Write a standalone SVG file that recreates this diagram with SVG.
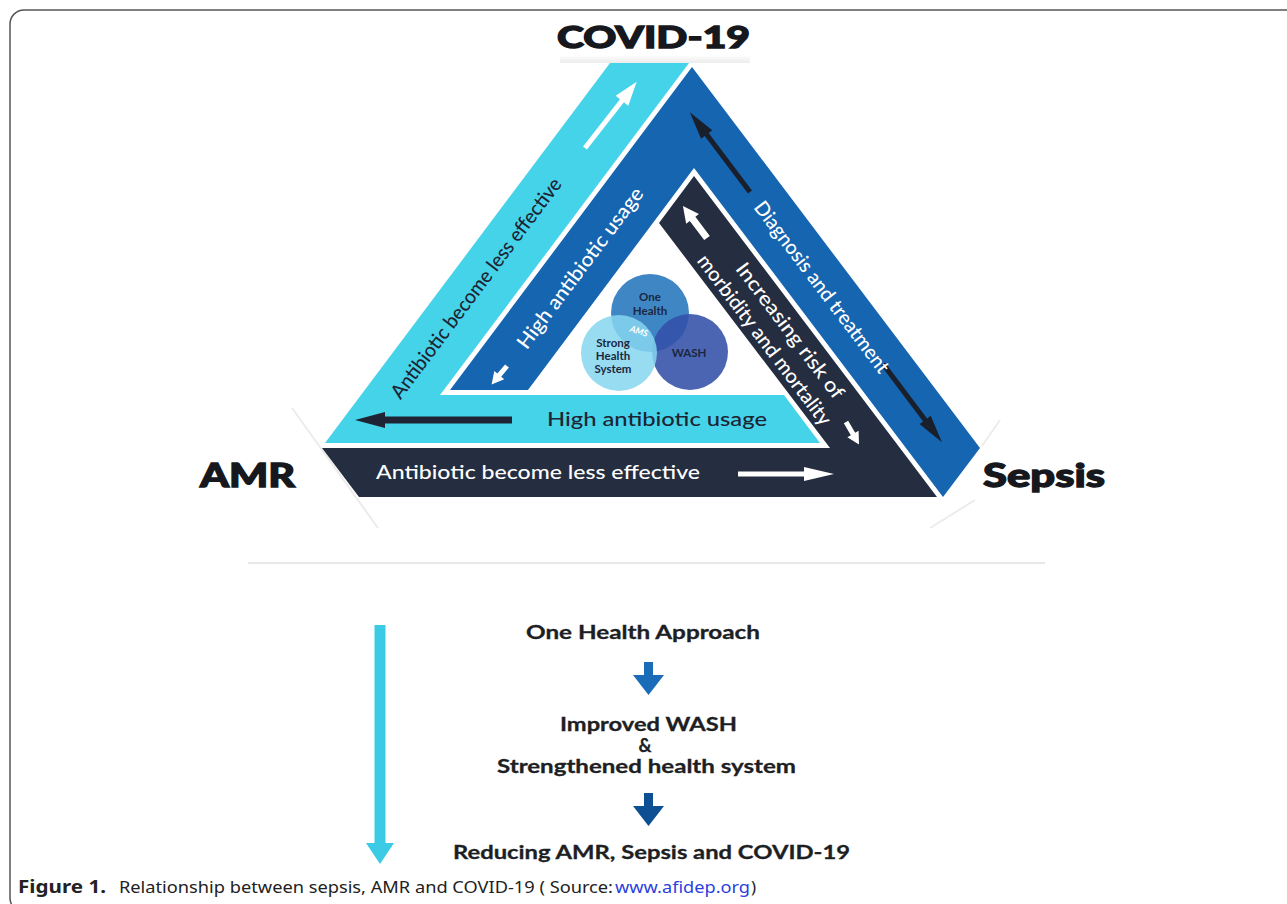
<svg xmlns="http://www.w3.org/2000/svg" width="1287" height="904" viewBox="0 0 1287 904">
<defs>
<style>
.big{font-family:Lato,"DejaVu Sans",sans-serif;font-weight:900;fill:#16181d;stroke:#16181d;stroke-width:1.3;}
.band{font-family:Lato,"Liberation Sans",sans-serif;font-size:20px;font-weight:500;}
.w{fill:#ffffff;}
.d{fill:#1e2433;}
.venn{font-family:Lato,"Liberation Sans",sans-serif;font-size:11.5px;font-weight:700;fill:#1b2740;text-anchor:middle;}
.step{font-family:Lato,"Liberation Sans",sans-serif;font-size:18px;font-weight:700;fill:#1d1f24;stroke:#1d1f24;stroke-width:0.3;}
.cap{font-family:"Noto Sans","Open Sans",sans-serif;font-size:17px;fill:#222;}
</style>
<linearGradient id="topShade" x1="0" y1="0" x2="0" y2="1">
<stop offset="0" stop-color="#ffffff"/>
<stop offset="1" stop-color="#ececec"/>
</linearGradient>
</defs>
<rect x="0" y="0" width="1287" height="904" fill="#ffffff"/>
<rect x="10" y="10" width="1300" height="902" rx="14" fill="none" stroke="#555" stroke-width="1.5"/>

<!-- faint shadows -->
<g id="shadows" fill="none" stroke="#ececec" stroke-width="2">
<rect x="560" y="55" width="190" height="8" fill="url(#topShade)" stroke="none"/>
<line x1="292" y1="408" x2="378" y2="528"/>
<line x1="1000" y1="420" x2="982" y2="446"/>
<line x1="975" y1="500" x2="930" y2="528"/>
</g>

<g id="node-cyan-band">
<polygon points="610,63 689,63 440,395 784,395 820,443 325,443" fill="#45d3ea"/>
</g>
<g id="node-darkblue-band">
<polygon points="692,67 980,448 943,497 694,168 528,390 450,390" fill="#1565b0"/>
</g>
<g id="node-navy-band">
<polygon points="322,448 830,448 659,223 694,176 937,497 359,497" fill="#252d40"/>
</g>

<g id="connectors">
<path d="M0,-2.5 L60,-2.5 L60,-8 L84,0 L60,8 L60,2.5 L0,2.5 Z" class="w" transform="translate(585,148) rotate(-52)"/>
<path d="M0,-2.5 L72,-2.5 L72,-7 L100,0 L72,7 L72,2.5 L0,2.5 Z" fill="#1a1f2c" transform="translate(750,192) rotate(-127)"/>
<path d="M0,-2.5 L70,-2.5 L70,-7 L98,0 L70,7 L70,2.5 L0,2.5 Z" fill="#1a1f2c" transform="translate(883,364) rotate(53)"/>
<path d="M0,-3.5 L127,-3.5 L127,-8 L157,0 L127,8 L127,3.5 L0,3.5 Z" fill="#1e2433" transform="translate(512,420) rotate(180)"/>
<path d="M0,-2.5 L66,-2.5 L66,-7 L96,0 L66,7 L66,2.5 L0,2.5 Z" class="w" transform="translate(738,474)"/>
<path d="M0,-3.5 L24,-3.5 L24,-8 L40,0 L24,8 L24,3.5 L0,3.5 Z" class="w" transform="translate(707,238) rotate(-127)"/>
<path d="M0,-2.5 L14,-2.5 L14,-6.5 L26,0 L14,6.5 L14,2.5 L0,2.5 Z" class="w" transform="translate(846,422) rotate(60)"/>
<path d="M0,-2.5 L12,-2.5 L12,-6.5 L24,0 L12,6.5 L12,2.5 L0,2.5 Z" class="w" transform="translate(507,366) rotate(130)"/>
<path d="M374.5,625 L385.5,625 L385.5,843 L394,843 L380,864 L366,843 L374.5,843 Z" fill="#3ccbe4"/>
<path d="M644,662 L653,662 L653,675 L664,675 L648.5,695 L633,675 L644,675 Z" fill="#1a6bb8"/>
<path d="M644,793 L653,793 L653,806 L664,806 L648.5,826 L633,806 L644,806 Z" fill="#0d4f93"/>
</g>

<g id="node-covid"><text class="big" x="557" y="48" font-size="30" textLength="193" lengthAdjust="spacingAndGlyphs">COVID-19</text></g>
<g id="node-amr"><text class="big" x="200" y="487" font-size="33" textLength="95" lengthAdjust="spacingAndGlyphs">AMR</text></g>
<g id="node-sepsis"><text class="big" x="983" y="487" font-size="33" textLength="122" lengthAdjust="spacingAndGlyphs">Sepsis</text></g>

<g id="band-labels">
<text class="band d" x="547" y="426" textLength="220" lengthAdjust="spacingAndGlyphs">High antibiotic usage</text>
<text class="band w" x="376" y="479" textLength="324" lengthAdjust="spacingAndGlyphs">Antibiotic become less effective</text>
<text class="band d" transform="translate(476,288) rotate(-53.1)" x="0" y="7" text-anchor="middle" textLength="270" lengthAdjust="spacingAndGlyphs">Antibiotic become less effective</text>
<text class="band w" transform="translate(580,268) rotate(-53.1)" x="0" y="7" text-anchor="middle" textLength="196" lengthAdjust="spacingAndGlyphs">High antibiotic usage</text>
<text class="band w" transform="translate(822,287) rotate(52.9)" x="0" y="7" text-anchor="middle" textLength="210" lengthAdjust="spacingAndGlyphs">Diagnosis and treatment</text>
<g transform="translate(775,332) rotate(52.9)">
<text class="band w" x="8" y="-6" text-anchor="middle" textLength="165" lengthAdjust="spacingAndGlyphs">Increasing risk of</text>
<text class="band w" x="0" y="20" text-anchor="middle" textLength="208" lengthAdjust="spacingAndGlyphs">morbidity and mortality</text>
</g>
</g>

<g id="node-venn">
<circle cx="650" cy="313" r="39" fill="#3f86c5"/>
<circle cx="690" cy="352" r="38" fill="#3350a8" opacity="0.88"/>
<circle cx="619" cy="353" r="38" fill="#86d6ee" opacity="0.85"/>
<text class="venn" x="650" y="301">One</text>
<text class="venn" x="650" y="315">Health</text>
<text class="venn" x="613" y="347">Strong</text>
<text class="venn" x="613" y="360">Health</text>
<text class="venn" x="613" y="373">System</text>
<text class="venn" x="689" y="357">WASH</text>
<text x="0" y="0" transform="translate(638,334) rotate(18)" font-family="Lato,'Liberation Sans',sans-serif" font-size="9" font-style="italic" font-weight="700" fill="#ffffff" text-anchor="middle">AMS</text>
</g>

<line x1="248" y1="563" x2="1045" y2="563" stroke="#d0d0d0" stroke-width="1"/>

<g id="node-steps">
<text class="step" x="526" y="639" textLength="234" lengthAdjust="spacingAndGlyphs">One Health Approach</text>
<text class="step" x="560" y="731" textLength="177" lengthAdjust="spacingAndGlyphs">Improved WASH</text>
<text class="step" x="645" y="752" text-anchor="middle">&amp;</text>
<text class="step" x="497" y="773" textLength="299" lengthAdjust="spacingAndGlyphs">Strengthened health system</text>
<text class="step" x="453" y="859" font-size="19" textLength="397" lengthAdjust="spacingAndGlyphs">Reducing AMR, Sepsis and COVID-19</text>
</g>

<g id="caption">
<text class="cap" x="18" y="893" font-weight="700" textLength="88" lengthAdjust="spacingAndGlyphs">Figure 1.</text>
<text class="cap" x="119" y="893" textLength="494" lengthAdjust="spacingAndGlyphs">Relationship between sepsis, AMR and COVID-19 ( Source: </text>
<text class="cap" x="615" y="893" textLength="135" lengthAdjust="spacingAndGlyphs" style="fill:#2b3fe0">www.afidep.org</text>
<text class="cap" x="751" y="893">)</text>
</g>
</svg>
